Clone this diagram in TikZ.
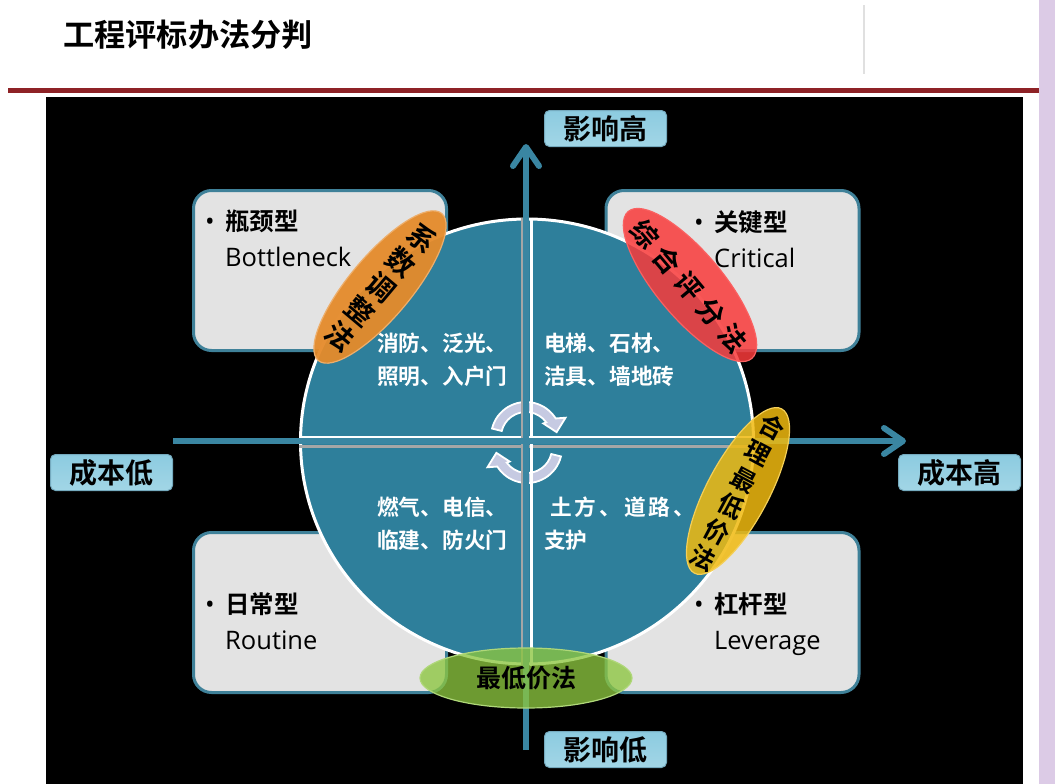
\documentclass[tikz,border=0pt]{standalone}
\usepackage{fontspec}
\usepackage{xcolor}
\usetikzlibrary{shapes.geometric, arrows.meta, positioning}
\setmainfont{Open Sans}
\newfontfamily\cjkfont{Noto Sans CJK SC}[BoldFont=* Bold]
\definecolor{tealfill}{HTML}{2E7F9B}
\definecolor{tealaxis}{HTML}{3A86A2}
\definecolor{tealedge}{HTML}{3F8199}
\definecolor{boxgray}{HTML}{E3E3E3}
\definecolor{turncol}{HTML}{C6CAE2}
\definecolor{rulered}{HTML}{8E2226}
\definecolor{stripcol}{HTML}{DCCBE6}
\definecolor{tagtop}{HTML}{8CCBE0}
\definecolor{tagbottom}{HTML}{A2D6E6}
\definecolor{ovalorange}{HTML}{E58B2B}
\definecolor{ovalred}{HTML}{F93A3A}
\definecolor{ovalyellow}{HTML}{F0BA10}
\definecolor{ovalgreen}{HTML}{8CC63F}
\newcommand{\cjkb}[1]{{\cjkfont\bfseries\fontsize{24.5}{36}\selectfont #1}}
\tikzstyle{quadbox} = [draw=tealedge,line width=3pt,fill=boxgray,rounded corners=18pt,minimum width=253pt,minimum height=160pt]
\tikzstyle{boxtext} = [anchor=north west,align=left,inner sep=0pt,font=\fontsize{25.5}{36}\selectfont]
\tikzstyle{tag} = [draw=tealaxis!70,line width=1pt,rounded corners=5pt,top color=tagtop,bottom color=tagbottom,minimum width=122pt,minimum height=36pt,inner sep=0pt,font=\cjkfont\bfseries\fontsize{28}{28}\selectfont]
\tikzstyle{item} = [anchor=north west,align=left,inner sep=0pt,text=white,font=\cjkfont\bfseries\fontsize{21.7}{32.5}\selectfont]
\tikzstyle{oval} = [ellipse,inner sep=0pt,line width=1.2pt,fill opacity=.85]
\tikzstyle{ovaltext} = [inner sep=0pt,align=center]
\tikzstyle{axis} = [draw=tealaxis,line width=6pt,-{Straight Barb[length=19pt,width=26pt,line width=6pt,round]}]
\tikzstyle{turn} = [draw=white,line width=1.8pt,fill=turncol]

\begin{document}
\begin{tikzpicture}[x=1pt,y=-1pt]
    \useasboundingbox (0,0) rectangle (1055,784);
    \fill[white] (0,0) rectangle (1055,784);
    \fill[black] (46,97) rectangle (1023,784);
    \fill[rulered] (8,88) rectangle (1039,92.5);
    \fill[black!12] (863,5) rectangle (865,74);
    \fill[stripcol] (1039,0) rectangle (1055,784);
    \node[anchor=west,inner sep=0pt,font=\cjkfont\bfseries\fontsize{31.2}{32}\selectfont] (title) at (63,35) {工程评标办法分判};

    \node[quadbox] (bottleneck) at (320,270.5) {};
    \node[quadbox] (critical) at (732.5,270.5) {};
    \node[quadbox] (routine) at (320,612.5) {};
    \node[quadbox] (leverage) at (732.5,612.5) {};

    \node[boxtext] (bottlenecktext) at (205,210) {\makebox[20pt][l]{\textbullet}\cjkb{瓶颈型}\\\hspace*{20pt}Bottleneck};
    \node[boxtext] (criticaltext) at (694,210) {\makebox[20pt][l]{\textbullet}\cjkb{关键型}\\\hspace*{20pt}Critical};
    \node[boxtext] (routinetext) at (205,592) {\makebox[20pt][l]{\textbullet}\cjkb{日常型}\\\hspace*{20pt}Routine};
    \node[boxtext] (leveragetext) at (694,592) {\makebox[20pt][l]{\textbullet}\cjkb{杠杆型}\\\hspace*{20pt}Leverage};

    \coordinate (axisleft) at (173,441);
    \coordinate (axisright) at (906,441);
    \coordinate (axisbottom) at (526,750);
    \coordinate (axistop) at (526,144);

    \node[ellipse,draw=white,line width=3pt,fill=tealfill,minimum width=453pt,minimum height=445pt,inner sep=0pt] (disc) at (527,441.5) {};

    \coordinate (turnup) at (526,437);
    \coordinate (turndown) at (527,448);
    \foreach \turnc/\turna in {turnup/0,turndown/180} {
        \draw[turn,shift={(\turnc)},rotate=\turna] (166:35pt) arc[start angle=166,end angle=32,radius=35pt] -- (26:44pt) -- (9:31pt) -- (38:22pt) -- (36:25pt) arc[start angle=36,end angle=166,radius=25pt] -- cycle;
    }

    \draw[white,line width=3pt] ([yshift=4pt]disc.west) -- ([yshift=4pt]disc.east);
    \draw[black!35!white,line width=3pt] ([yshift=-5pt]disc.west) -- ([yshift=-5pt]disc.east);
    \draw[black!35!white,line width=3pt] ([xshift=-4.5pt]disc.north) -- ([xshift=-4.5pt]disc.south);
    \draw[white,line width=3pt] ([xshift=4pt]disc.north) -- ([xshift=4pt]disc.south);
    \draw[axis] (axisleft) -- (axisright);
    \draw[axis] (axisbottom) -- (axistop);

    \node[item] (upleft) at (377,333) {消防、泛光、\\照明、入户门};
    \node[item] (upright) at (544,333) {电梯、石材、\\洁具、墙地砖};
    \node[item] (downleft) at (377,497) {燃气、电信、\\临建、防火门};
    \node[item] (downright) at (544,497) {\hspace*{6pt}土\hspace{3pt}方\hspace{3pt}、\hspace{3pt}道\hspace{3pt}路\hspace{3pt}、\\支护};

    \node[tag] (costlow) at (111.5,472.5) {成本低};
    \node[tag] (costhigh) at (959.5,472.5) {成本高};
    \node[tag] (impacthigh) at (605.5,128.5) {影响高};
    \node[tag] (impactlow) at (605.5,749.5) {影响低};

    \node[oval,fill=ovalorange,draw=ovalorange!70!white,fill opacity=.95,minimum width=62pt,minimum height=192pt,rotate=-40] (adjustoval) at (380,287) {};
    \node[oval,fill=ovalred,draw=ovalred!80!white,minimum width=192pt,minimum height=66pt,rotate=-50] (scoreoval) at (690,285) {};
    \node[oval,fill=ovalyellow,draw=ovalyellow!70!white,minimum width=62pt,minimum height=186pt,rotate=-28] (fairoval) at (738,491) {};
    \node[oval,fill=ovalgreen,draw=ovalgreen!70!white,fill opacity=.78,minimum width=212pt,minimum height=60pt] (lowoval) at (526,678) {};

    \node[ovaltext,rotate=-40,font=\cjkfont\bfseries\fontsize{28}{32}\selectfont] (adjusttext) at (381,287) {系\\数\\调\\整\\法};
    \node[ovaltext,rotate=-50,font=\cjkfont\bfseries\fontsize{27}{27}\selectfont] (scoretext) at (689,286) {综\hspace{7pt}合\hspace{7pt}评\hspace{7pt}分\hspace{7pt}法};
    \node[ovaltext,rotate=-28,font=\cjkfont\bfseries\fontsize{25}{29.6}\selectfont] (fairtext) at (737.5,492.5) {合\\理\\最\\低\\价\\法};
    \node[ovaltext,font=\cjkfont\bfseries\fontsize{25}{25}\selectfont] (lowtext) at (526,678) {最低价法};
\end{tikzpicture}
\end{document}
